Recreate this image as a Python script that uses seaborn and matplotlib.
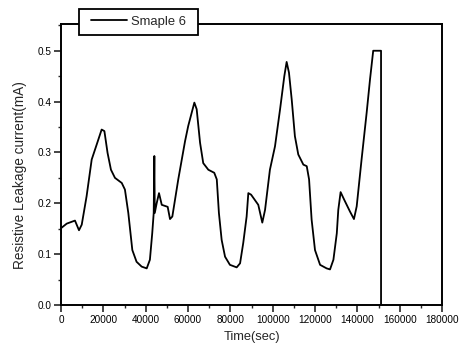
import matplotlib
matplotlib.use('Agg')
import matplotlib.pyplot as plt
from matplotlib.ticker import MultipleLocator, FormatStrFormatter
from matplotlib.legend_handler import HandlerLine2D
from matplotlib.lines import Line2D
import seaborn as sns
import pandas as pd

# Valeurs
time_sec = [0, 0, 2700, 6600, 8500, 9800, 12100, 14500, 16900, 19200, 20500,
            22000, 23600, 25500, 28700, 30200, 31800, 33700, 35700, 38100, 40500,
            42000, 43100, 43800, 44100, 44300, 45200, 46300, 47600, 50400, 51500,
            52600, 55400, 58600, 60100, 63000, 64100, 65700, 67200, 69600, 72400,
            73600, 74600, 75900, 77500, 79800, 83000, 84600, 86100, 87700, 88500,
            89800, 93200, 95100, 96400, 98700, 101100, 103500, 105500, 106600,
            107700, 109000, 110500, 112100, 114500, 116100, 117200, 118400, 120000,
            122400, 125500, 127100, 128700, 130300, 131000, 132100, 133800, 136500,
            138400, 139700, 142000, 144400, 146000, 147500, 151200, 151200]
leak_current = [0.140, 0.151, 0.160, 0.166, 0.147, 0.158, 0.214, 0.286, 0.316, 0.345,
                0.342, 0.299, 0.266, 0.250, 0.240, 0.227, 0.181, 0.108, 0.085, 0.0755,
                0.072, 0.089, 0.141, 0.181, 0.293, 0.181, 0.200, 0.220, 0.197, 0.193,
                0.169, 0.174, 0.247, 0.322, 0.352, 0.398, 0.385, 0.319, 0.279, 0.266,
                0.260, 0.247, 0.181, 0.128, 0.095, 0.079, 0.074, 0.082, 0.122, 0.174,
                0.220, 0.217, 0.197, 0.162, 0.187, 0.266, 0.312, 0.385, 0.450, 0.478,
                0.457, 0.404, 0.332, 0.296, 0.276, 0.273, 0.247, 0.168, 0.108, 0.079,
                0.072, 0.070, 0.089, 0.141, 0.187, 0.222, 0.207, 0.184, 0.169, 0.194,
                0.286, 0.378, 0.444, 0.500, 0.500, 0.0]
series_name = 'Smaple 6'

df = pd.DataFrame({'time': time_sec, 'current': leak_current})

sns.set_style('ticks')
plt.rcParams['font.family'] = ['Liberation Sans', 'DejaVu Sans']

fig = plt.figure(figsize=(4.59, 3.47), dpi=100)
ax = fig.add_axes([61 / 459, 1 - 305 / 347, 381 / 459, (305 - 24.3) / 347])

sns.lineplot(x='time', y='current', data=df, ax=ax, color='black', linewidth=1.3,
             sort=False, estimator=None, label=series_name, legend=False)

ax.set_xlim(0, 180000)
ax.set_ylim(0, 0.552)
ax.xaxis.set_major_locator(MultipleLocator(20000))
ax.xaxis.set_minor_locator(MultipleLocator(10000))
ax.yaxis.set_major_locator(MultipleLocator(0.1))
ax.yaxis.set_minor_locator(MultipleLocator(0.05))
ax.yaxis.set_major_formatter(FormatStrFormatter('%.1f'))
ax.tick_params(which='major', direction='out', length=5, width=1.2, labelsize=7.2,
               pad=2, labelcolor='black')
ax.tick_params(which='minor', direction='out', length=2.5, width=1)
for s in ax.spines.values():
    s.set_linewidth(1.4)
    s.set_color('black')

ax.set_xlabel('Time(sec)', fontsize=9.3)
ax.set_ylabel('Resistive Leakage current(mA)', fontsize=9.8)
ax.xaxis.set_label_coords(0.5, (305 - 331) / 280.7)
ax.yaxis.set_label_coords((27 - 61) / 381, 0.463)

handles, labels = ax.get_legend_handles_labels()
leg = fig.legend(handles, labels, loc='upper left',
                 bbox_to_anchor=(79 / 459, 1 - 34 / 347, 119 / 459, 25 / 347),
                 mode='expand', borderaxespad=0, frameon=True, fancybox=False,
                 fontsize=9.4, handlelength=3.14, borderpad=0.52, handletextpad=0.3,
                 handler_map={Line2D: HandlerLine2D(xpad=0.4)})
leg.get_frame().set_edgecolor('black')
leg.get_frame().set_linewidth(1.3)
leg.get_frame().set_alpha(1)
leg.set_zorder(10)

fig.savefig('out.png', dpi=100)
